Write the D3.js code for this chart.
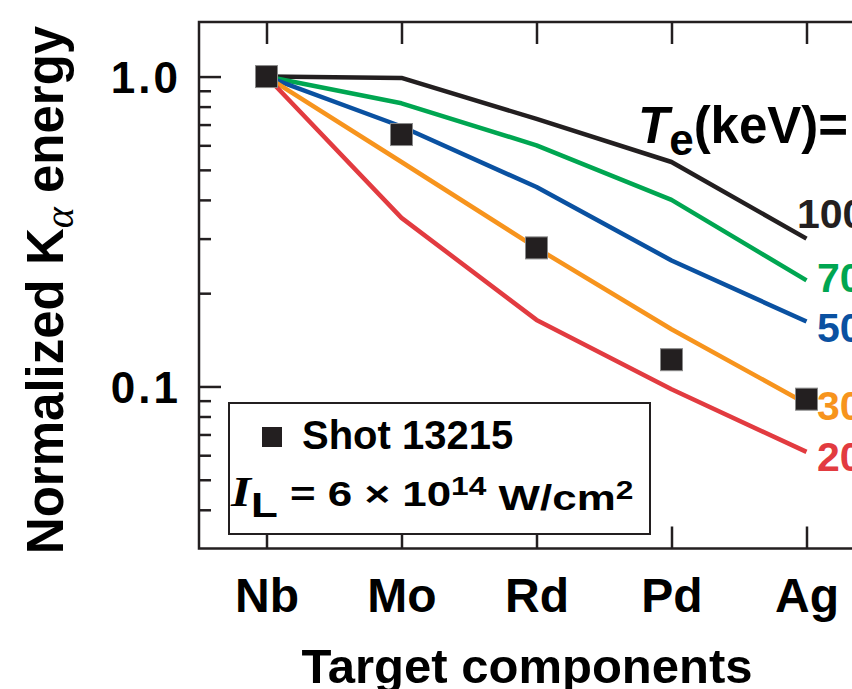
<!DOCTYPE html>
<html>
<head>
<meta charset="utf-8">
<script src="https://cdn.jsdelivr.net/npm/d3@7"></script>
<style>
  html, body { margin: 0; padding: 0; background: #fff; }
  svg { display: block; }
  text { font-family: "Liberation Sans", Arial, Helvetica, sans-serif; font-weight: bold; fill: #000; }
</style>
</head>
<body>
<svg id="chart" width="852" height="689"></svg>
<script>
// Target elements along the x axis
const elements = ["Nb", "Mo", "Rd", "Pd", "Ag"];

// Calculated normalized K-alpha energy for each electron temperature (keV)
const te100 = [1.0, 0.99, 0.73, 0.53, 0.30];
const te70  = [1.0, 0.82, 0.60, 0.40, 0.22];
const te50  = [1.0, 0.69, 0.44, 0.255, 0.162];
const te30  = [1.0, 0.53, 0.28, 0.153, 0.088];
const te20  = [1.0, 0.35, 0.164, 0.098, 0.0615];

// Measured values, shot 13215
const shot13215 = [1.0, 0.65, 0.28, 0.122, 0.091];

const seriesLabels = ["100", "70", "50", "30", "20"];
const seriesValues = [te100, te70, te50, te30, te20];
const seriesColors = ["#231f20", "#00a651", "#0a51a1", "#f7941d", "#e23b40"];

const yMajorTicks = [0.1, 1.0];
const yMinorTicks = [0.04, 0.05, 0.06, 0.07, 0.08, 0.09, 0.2, 0.3, 0.4, 0.5, 0.6, 0.7, 0.8, 0.9];

const svg = d3.select("#chart");
const plotLeft = 199, plotRight = 874, plotTop = 22, plotBottom = 548.5;

const x = d3.scalePoint().domain(elements).range([plotLeft, plotRight]).padding(0.5);
const y = d3.scaleLog().domain([0.03, 1.5]).range([plotBottom, plotTop]);

const ink = "#231f20";

// Axes with inward ticks
function styleAxis(g) {
  g.select(".domain").remove();
  g.selectAll(".tick line").attr("stroke", ink).attr("stroke-width", 2.5);
  g.selectAll("text").attr("fill", "#000");
}

svg.append("g")
  .attr("transform", `translate(0,${plotBottom})`)
  .call(d3.axisBottom(x).tickSize(-22).tickPadding(29))
  .call(styleAxis)
  .call(g => g.selectAll("text").style("font-size", "48px"));

svg.append("g")
  .attr("transform", `translate(${plotLeft},0)`)
  .call(d3.axisLeft(y).tickValues(yMinorTicks).tickSize(-12).tickFormat(""))
  .call(styleAxis);

svg.append("g")
  .attr("transform", `translate(${plotLeft},0)`)
  .call(d3.axisLeft(y).tickValues(yMajorTicks).tickSize(-22).tickPadding(18).tickFormat(d3.format(".1f")))
  .call(styleAxis)
  .call(g => g.selectAll("text")
    .style("font-size", "44px")
    .style("letter-spacing", "3px")
    .attr("dy", "0.36em"));

svg.append("g")
  .attr("transform", `translate(0,${plotTop})`)
  .call(d3.axisTop(x).tickSize(-22).tickFormat(""))
  .call(styleAxis);

// Curves
const line = d3.line().x((d, i) => x(elements[i])).y(d => y(d));
seriesValues.forEach((vals, k) => {
  svg.append("path")
    .datum(vals)
    .attr("d", line)
    .attr("fill", "none")
    .attr("stroke", seriesColors[k])
    .attr("stroke-width", 4.5)
    .attr("stroke-linejoin", "round");
});

// Measured points
const sq = 22;
svg.selectAll("rect.pt")
  .data(shot13215)
  .join("rect")
  .attr("class", "pt")
  .attr("x", (d, i) => x(elements[i]) - sq / 2)
  .attr("y", d => y(d) - sq / 2)
  .attr("width", sq)
  .attr("height", sq)
  .attr("fill", ink)
  .attr("stroke", "#8a8a8a")
  .attr("stroke-width", 1);

// Frame
svg.append("path")
  .attr("d", `M${plotRight + 40},${plotTop}H${plotLeft}V${plotBottom}H${plotRight + 40}`)
  .attr("fill", "none")
  .attr("stroke", ink)
  .attr("stroke-width", 2.5);

// Axis titles
svg.append("text")
  .attr("x", 527)
  .attr("y", 683)
  .attr("text-anchor", "middle")
  .style("font-size", "49px")
  .text("Target components");

const yTitle = svg.append("text")
  .attr("transform", "translate(63,290) rotate(-90)")
  .attr("text-anchor", "middle")
  .style("font-size", "51px");
yTitle.append("tspan").text("Normalized K");
yTitle.append("tspan")
  .attr("dy", "0.25em")
  .style("font-size", "40px")
  .style("font-style", "italic")
  .style("font-family", "'Liberation Serif', 'Times New Roman', serif")
  .style("font-weight", "normal")
  .text("α");
yTitle.append("tspan").attr("dy", "-0.2em").text(" energy");

// Temperature header and curve labels
const teTitle = svg.append("text")
  .attr("x", 638)
  .attr("y", 143)
  .style("font-size", "51px");
teTitle.append("tspan").style("font-style", "italic").text("T");
teTitle.append("tspan").attr("dy", "0.28em").style("font-size", "44px").text("e");
teTitle.append("tspan").attr("dy", "-0.24em").text("(keV)=");

const labelPos = [
  { x: 797, y: 228 },
  { x: 817, y: 292 },
  { x: 817, y: 342 },
  { x: 817, y: 420 },
  { x: 817, y: 471 }
];
svg.selectAll("text.te")
  .data(seriesLabels)
  .join("text")
  .attr("class", "te")
  .attr("x", (d, i) => labelPos[i].x)
  .attr("y", (d, i) => labelPos[i].y)
  .style("font-size", "41px")
  .style("fill", (d, i) => seriesColors[i])
  .text(d => d);

// Legend
const legendG = svg.append("g");
legendG.append("rect")
  .attr("x", 229).attr("y", 403)
  .attr("width", 421).attr("height", 131)
  .attr("fill", "#fff")
  .attr("stroke", ink)
  .attr("stroke-width", 2);
legendG.append("rect")
  .attr("x", 262).attr("y", 427)
  .attr("width", 20).attr("height", 20)
  .attr("fill", ink);
legendG.append("text")
  .attr("x", 302).attr("y", 449)
  .style("font-size", "40px")
  .text("Shot 13215");

// Laser intensity line, set in a slightly extended face
const intensity = legendG.append("text")
  .attr("transform", "translate(231,506) scale(1.22,1)")
  .style("font-size", "36px");
intensity.append("tspan")
  .style("font-family", "'Liberation Serif', 'Times New Roman', serif")
  .style("font-style", "italic")
  .style("font-size", "42px")
  .text("I");
intensity.append("tspan").attr("dy", "0.3em").text("L");
intensity.append("tspan").attr("dy", "-0.3em").text(" = 6 × 10");
intensity.append("tspan").attr("dy", "-0.42em").style("font-size", "26px").text("14");
intensity.append("tspan").attr("dy", "0.42em").text(" W/cm");
intensity.append("tspan").attr("dy", "-0.42em").style("font-size", "26px").text("2");
</script>
</body>
</html>
